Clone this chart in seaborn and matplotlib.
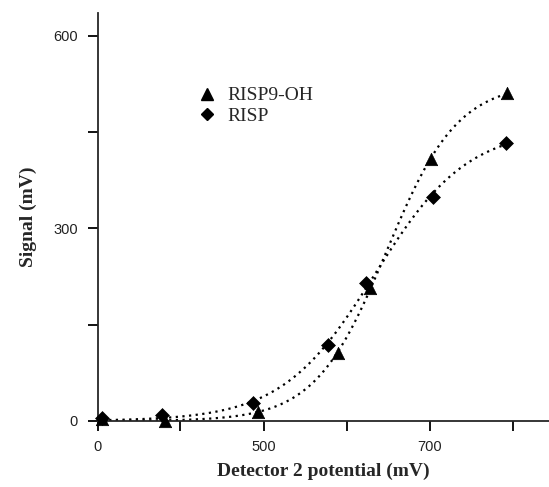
import numpy as np
import pandas as pd
import matplotlib
matplotlib.use("Agg")
import matplotlib.pyplot as plt
import seaborn as sns
from matplotlib.lines import Line2D

# ---- data (x in axis units, tick 300 is labelled "0") ----
risp9_x = [306, 381, 493, 590, 628, 702, 793]
risp9_y = [3, 0, 14, 106, 207, 408, 511]
risp_x = [306, 378, 487, 578, 623, 704, 792]
risp_y = [5, 9, 28, 118, 215, 349, 433]
series_names = ["RISP9-OH", "RISP"]
x_ticks = [300, 400, 500, 600, 700, 800]
x_tick_labels = ["0", "", "500", "", "700", ""]
y_ticks = [0, 150, 300, 450, 600]
y_tick_labels = ["0", "", "300", "", "600"]

df = pd.DataFrame({
    "x": risp9_x + risp_x,
    "y": risp9_y + risp_y,
    "series": [series_names[0]] * len(risp9_x) + [series_names[1]] * len(risp_x),
})


def logistic_fit(x, y):
    x = np.asarray(x, float)
    y = np.asarray(y, float)
    best = None
    for x0 in np.linspace(550, 750, 201):
        for s in np.linspace(20, 120, 101):
            f = 1.0 / (1.0 + np.exp(-(x - x0) / s))
            A = f @ y / (f @ f)
            sse = np.sum((A * f - y) ** 2)
            if best is None or sse < best[0]:
                best = (sse, A, x0, s)
    _, A, x0, s = best
    xs = np.linspace(x.min(), x.max(), 300)
    return xs, A / (1.0 + np.exp(-(xs - x0) / s))


fits = []
for name, xv, yv in [(series_names[0], risp9_x, risp9_y), (series_names[1], risp_x, risp_y)]:
    xs, ys = logistic_fit(xv, yv)
    fits.append(pd.DataFrame({"x": xs, "y": ys, "series": name}))
fit_df = pd.concat(fits, ignore_index=True)

sns.set_theme(style="ticks")
plt.rcParams["font.family"] = ["Liberation Serif", "DejaVu Serif"]

fig = plt.figure(figsize=(5.49, 4.87), dpi=100)
ax = fig.add_axes([97.5 / 549, 66 / 487, 1 - 97.5 / 549, (421 - 13) / 487])

for name in series_names:
    sub = fit_df[fit_df.series == name]
    sns.lineplot(data=sub, x="x", y="y", ax=ax, color="black", lw=1.6,
                 linestyle=(0, (1.0, 2.0)), sort=True, estimator=None,
                 legend=False)

marker_of = {"RISP9-OH": "^", "RISP": "D"}
size_of = {"RISP9-OH": 80, "RISP": 50}
for name in series_names:
    sns.scatterplot(data=df[df.series == name], x="x", y="y", marker=marker_of[name],
                    ax=ax, color="black", s=size_of[name], edgecolor="black", linewidth=0.5,
                    legend=False, clip_on=False, zorder=5)

ax.set_xlim(300, 300 + (549 - 97.5) / 83 * 100)
ax.set_ylim(0, (421 - 13) / 0.6417)
ax.set_xticks(x_ticks)
ax.set_xticklabels(x_tick_labels)
ax.set_yticks(y_ticks)
ax.set_yticklabels(y_tick_labels)
for lab in ax.get_xticklabels() + ax.get_yticklabels():
    lab.set_family(["Liberation Sans", "DejaVu Sans"])
    lab.set_fontsize(10.5)
    lab.set_color("#222222")
ax.tick_params(axis="both", length=7, width=1.3, color="black", direction="out")
ax.tick_params(axis="x", pad=7)
ax.tick_params(axis="y", pad=7)
sns.despine(ax=ax)
ax.spines["left"].set_linewidth(1.3)
ax.spines["bottom"].set_linewidth(1.3)

ax.set_xlabel("Detector 2 potential (mV)", fontsize=14, fontweight="bold", labelpad=6)
ax.set_ylabel("Signal (mV)", fontsize=14, fontweight="bold", labelpad=12)

handles = [Line2D([], [], marker="^", color="black", linestyle="none", markersize=9),
           Line2D([], [], marker="D", color="black", linestyle="none", markersize=6.5)]
leg = ax.legend(handles, series_names, loc="upper left",
                bbox_to_anchor=((188 - 97.5) / (549 - 97.5), (421 - 77) / 408),
                frameon=False, fontsize=14, handlelength=1.0, handletextpad=0.55,
                labelspacing=0.15, borderpad=0)

fig.savefig("out.png", dpi=100)
